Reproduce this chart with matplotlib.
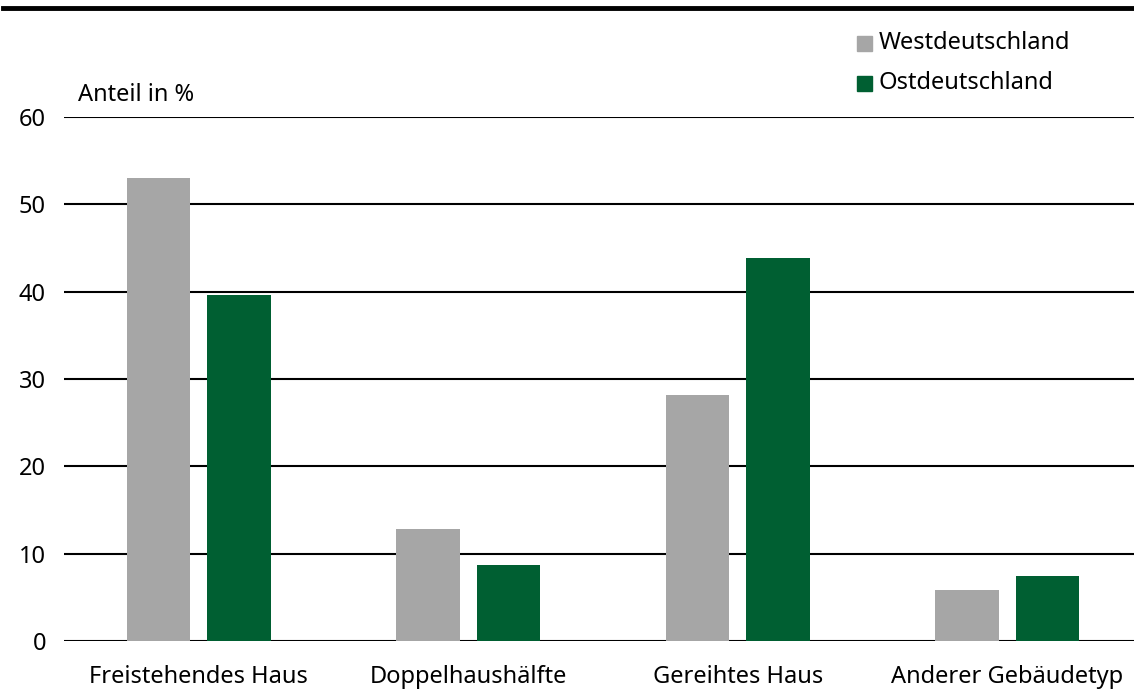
import numpy as np
import matplotlib.pyplot as plt
from matplotlib.lines import Line2D
from matplotlib.patches import Rectangle

plt.rcParams['font.family'] = ['Noto Sans', 'DejaVu Sans']

categories = ["Freistehendes Haus", "Doppelhaushälfte", "Gereihtes Haus", "Anderer Gebäudetyp"]
west = [53.0, 12.8, 28.2, 5.8]
ost = [39.6, 8.7, 43.9, 7.4]
series_names = ["Westdeutschland", "Ostdeutschland"]
yticks = [0, 10, 20, 30, 40, 50, 60]

gray = "#a6a6a6"
green = "#005f32"
fs = 17

fig = plt.figure(figsize=(11.34, 6.93), dpi=100)
ax = fig.add_axes([64 / 1134, 52 / 693, 1078 / 1134, (641 - 117) / 693])

x = np.arange(len(categories))
w = 0.235
off = 0.149
ax.bar(x - off, west, w, color=gray, zorder=3)
ax.bar(x + off, ost, w, color=green, zorder=3)

ax.set_xlim(-0.5, 3.5)
ax.set_ylim(0, 60)
ax.set_yticks(yticks)
ax.set_xticks(x)
ax.set_xticklabels(categories, fontsize=fs)
ax.tick_params(axis='y', labelsize=fs, length=0, pad=13)
ax.tick_params(axis='x', length=0, pad=17)
for s in ax.spines.values():
    s.set_visible(False)
for t in yticks:
    ax.axhline(t, color="black", lw=1.5, zorder=2)

fig.text(78 / 1134, 1 - 95 / 693, "Anteil in %", fontsize=fs, va="center", ha="left")

# legend
for i, (name, col) in enumerate(zip(series_names, [gray, green])):
    yc = 43 + 40 * i
    fig.add_artist(Rectangle((857 / 1134, 1 - (yc + 8) / 693), 15 / 1134, 15 / 693,
                             color=col, transform=fig.transFigure))
    fig.text(879 / 1134, 1 - yc / 693, name, fontsize=fs, va="center", ha="left")

# thick rule at top
fig.add_artist(Line2D([3 / 1134, 1], [1 - 8 / 693, 1 - 8 / 693], color="black", lw=3.5,
                      transform=fig.transFigure))

fig.savefig("out.png", dpi=100)
